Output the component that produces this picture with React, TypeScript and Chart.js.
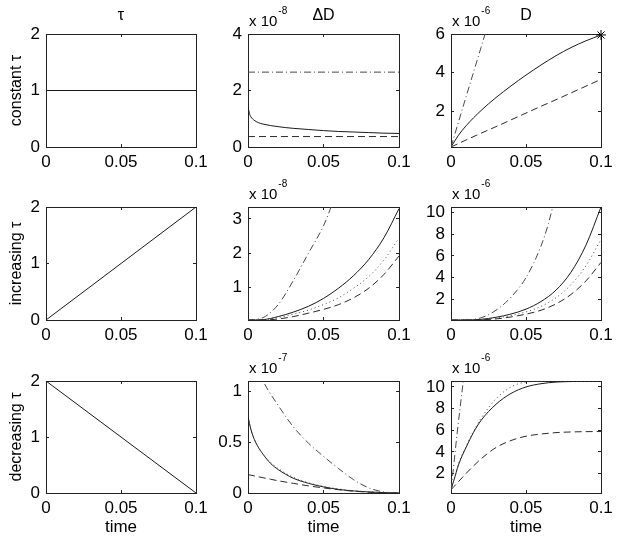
import React, { useEffect, useRef } from 'react';
import { Chart, registerables } from 'chart.js';

Chart.register(...registerables);

const FONT = '"Liberation Sans", Arial, Helvetica, sans-serif';

// ---------- text ----------
const colTitles = ['τ', 'ΔD', 'D'];
const rowLabels = ['constant τ', 'increasing τ', 'decreasing τ'];
const timeLabel = 'time';

// ---------- x axis (shared) ----------
const xTicks = [0, 0.05, 0.1];
const xTickLabels = ['0', '0.05', '0.1'];

// ---------- panel A: tau, constant ----------
const tA = [0, 0.1];
const tauConst = [1, 1];
// ---------- panel D: tau, increasing ----------
const tauInc = [0, 2];
// ---------- panel G: tau, decreasing ----------
const tauDec = [2, 0];
const tauTicks = [0, 1, 2];
const tauTickLabels = ['0', '1', '2'];

// ---------- panel B: dD, constant tau (x 1e-8) ----------
const tB = [0, 0.001, 0.002, 0.004, 0.007, 0.01, 0.02, 0.03, 0.04, 0.05, 0.06, 0.07, 0.08, 0.09, 0.1];
const dDConstSolid = [1.43, 1.18, 1.06, 0.95, 0.86, 0.81, 0.72, 0.66, 0.62, 0.58, 0.55, 0.53, 0.51, 0.49, 0.48];
const tBflat = [0, 0.1];
const dDConstDashed = [0.37, 0.37];
const dDConstDashDot = [2.65, 2.65];
const bTicks = [0, 2, 4];
const bTickLabels = ['0', '2', '4'];

// ---------- panel C: D, constant tau (x 1e-6) ----------
const tC = [0, 0.005, 0.01, 0.02, 0.03, 0.04, 0.05, 0.06, 0.07, 0.08, 0.09, 0.1];
const DConstSolid = [0.17, 0.78, 1.26, 2.05, 2.72, 3.32, 3.88, 4.4, 4.88, 5.3, 5.65, 5.95];
const tC2 = [0, 0.01, 0.02, 0.03, 0.04, 0.05, 0.06, 0.07, 0.08, 0.09, 0.1];
const DConstDashed = [0.17, 0.53, 0.88, 1.22, 1.57, 1.92, 2.27, 2.61, 2.96, 3.31, 3.66];
const tC3 = [0, 0.01, 0.02, 0.03];
const DConstDashDot = [0.17, 2.75, 5.3, 7.9];
const tStar = [0.1];
const DConstStar = [5.95];
const cTicks = [2, 4, 6];
const cTickLabels = ['2', '4', '6'];

// ---------- panel E: dD, increasing tau (x 1e-8) ----------
const tE = [0, 0.01, 0.02, 0.03, 0.04, 0.05, 0.06, 0.07, 0.08, 0.09, 0.1];
const dDIncSolid = [0.05, 0.06, 0.15, 0.28, 0.45, 0.68, 0.98, 1.35, 1.82, 2.45, 3.3];
const dDIncDotted = [0.05, 0.06, 0.12, 0.22, 0.34, 0.5, 0.7, 0.98, 1.32, 1.8, 2.44];
const dDIncDashed = [0.05, 0.05, 0.08, 0.15, 0.25, 0.36, 0.5, 0.7, 0.98, 1.38, 1.92];
const tE2 = [0, 0.01, 0.02, 0.03, 0.04, 0.05, 0.055, 0.06];
const dDIncDashDot = [0.05, 0.12, 0.5, 1.2, 2.0, 2.8, 3.35, 3.95];
const eTicks = [1, 2, 3];
const eTickLabels = ['1', '2', '3'];

// ---------- panel F: D, increasing tau (x 1e-6) ----------
const tF = [0, 0.01, 0.02, 0.03, 0.04, 0.05, 0.06, 0.07, 0.08, 0.09, 0.1];
const DIncSolid = [0.1, 0.1, 0.16, 0.35, 0.65, 1.1, 1.8, 2.85, 4.5, 7.0, 10.5];
const DIncDotted = [0.1, 0.1, 0.14, 0.28, 0.5, 0.85, 1.35, 2.15, 3.35, 5.1, 7.5];
const DIncDashed = [0.1, 0.1, 0.12, 0.2, 0.38, 0.64, 1.0, 1.58, 2.45, 3.7, 5.4];
const tF2 = [0, 0.01, 0.02, 0.03, 0.04, 0.05, 0.06, 0.065, 0.07];
const DIncDashDot = [0.1, 0.12, 0.3, 1.0, 2.2, 4.0, 6.9, 9.0, 11.8];
const fTicks = [2, 4, 6, 8, 10];
const fTickLabels = ['2', '4', '6', '8', '10'];

// ---------- panel H: dD, decreasing tau (x 1e-7) ----------
const tH = [0, 0.002, 0.005, 0.01, 0.015, 0.02, 0.03, 0.04, 0.05, 0.06, 0.07, 0.08, 0.09, 0.1];
const dDDecSolid = [0.75, 0.62, 0.5, 0.38, 0.29, 0.23, 0.145, 0.095, 0.06, 0.035, 0.02, 0.01, 0.004, 0.001];
const dDDecDotted = [0.75, 0.62, 0.5, 0.38, 0.3, 0.24, 0.155, 0.1, 0.065, 0.04, 0.022, 0.011, 0.005, 0.001];
const dDDecDashed = [0.18, 0.175, 0.165, 0.15, 0.135, 0.12, 0.095, 0.07, 0.05, 0.032, 0.018, 0.008, 0.003, 0.001];
const tH2 = [0, 0.005, 0.01, 0.02, 0.03, 0.04, 0.05, 0.06, 0.07, 0.08, 0.09, 0.1];
const dDDecDashDot = [1.45, 1.28, 1.1, 0.86, 0.65, 0.49, 0.36, 0.24, 0.13, 0.05, 0.01, 0];
const hTicks = [0, 0.5, 1];
const hTickLabels = ['0', '0.5', '1'];

// ---------- panel I: D, decreasing tau (x 1e-6) ----------
const tI = [0, 0.002, 0.005, 0.01, 0.015, 0.02, 0.03, 0.04, 0.05, 0.06, 0.07, 0.08, 0.09, 0.1];
const DDecSolid = [0.5, 1.4, 2.8, 4.4, 5.8, 6.9, 8.4, 9.4, 10.0, 10.3, 10.45, 10.5, 10.52, 10.52];
const DDecDotted = [0.5, 1.45, 2.9, 4.5, 5.9, 7.1, 8.9, 10.0, 10.45, 10.52, 10.52, 10.52, 10.52, 10.52];
const DDecDashed = [0.5, 0.8, 1.25, 2.0, 2.7, 3.35, 4.4, 5.05, 5.45, 5.65, 5.78, 5.84, 5.87, 5.88];
const tI2 = [0, 0.002, 0.004, 0.006, 0.008, 0.01];
const DDecDashDot = [0.5, 3.0, 5.6, 8.0, 10.3, 12.5];
const iTicks = [2, 4, 6, 8, 10];
const iTickLabels = ['2', '4', '6', '8', '10'];

// ---------- layout of the 3x3 grid (axes boxes, px) ----------
const colX0 = [46, 248, 451];
const colX1 = [196, 399, 601];
const rowY0 = [34, 207, 381];
const rowY1 = [147, 320, 493];
const padL = [46, 40, 40];
const padR = [12, 12, 14];
const padT = [34, 30, 30];
const padB = [30, 31, 51];

type Style = 'solid' | 'dashed' | 'dotted' | 'dashdot' | 'star';
type Series = { t: number[]; v: number[]; style: Style };
type PanelDef = {
  row: number;
  col: number;
  yMin: number;
  yMax: number;
  yTicks: number[];
  yTickLabels: string[];
  exponent?: string;
  series: Series[];
};

const panels: PanelDef[] = [
  { row: 0, col: 0, yMin: 0, yMax: 2, yTicks: tauTicks, yTickLabels: tauTickLabels,
    series: [{ t: tA, v: tauConst, style: 'solid' }] },
  { row: 0, col: 1, yMin: 0, yMax: 4, yTicks: bTicks, yTickLabels: bTickLabels, exponent: '-8',
    series: [
      { t: tBflat, v: dDConstDashDot, style: 'dashdot' },
      { t: tBflat, v: dDConstDashed, style: 'dashed' },
      { t: tB, v: dDConstSolid, style: 'solid' },
    ] },
  { row: 0, col: 2, yMin: 0.17, yMax: 6, yTicks: cTicks, yTickLabels: cTickLabels, exponent: '-6',
    series: [
      { t: tC3, v: DConstDashDot, style: 'dashdot' },
      { t: tC2, v: DConstDashed, style: 'dashed' },
      { t: tC, v: DConstSolid, style: 'solid' },
      { t: tStar, v: DConstStar, style: 'star' },
    ] },
  { row: 1, col: 0, yMin: 0, yMax: 2, yTicks: tauTicks, yTickLabels: tauTickLabels,
    series: [{ t: tA, v: tauInc, style: 'solid' }] },
  { row: 1, col: 1, yMin: 0.05, yMax: 3.35, yTicks: eTicks, yTickLabels: eTickLabels, exponent: '-8',
    series: [
      { t: tE2, v: dDIncDashDot, style: 'dashdot' },
      { t: tE, v: dDIncDashed, style: 'dashed' },
      { t: tE, v: dDIncDotted, style: 'dotted' },
      { t: tE, v: dDIncSolid, style: 'solid' },
    ] },
  { row: 1, col: 2, yMin: 0.1, yMax: 10.5, yTicks: fTicks, yTickLabels: fTickLabels, exponent: '-6',
    series: [
      { t: tF2, v: DIncDashDot, style: 'dashdot' },
      { t: tF, v: DIncDashed, style: 'dashed' },
      { t: tF, v: DIncDotted, style: 'dotted' },
      { t: tF, v: DIncSolid, style: 'solid' },
    ] },
  { row: 2, col: 0, yMin: 0, yMax: 2, yTicks: tauTicks, yTickLabels: tauTickLabels,
    series: [{ t: tA, v: tauDec, style: 'solid' }] },
  { row: 2, col: 1, yMin: 0, yMax: 1.1, yTicks: hTicks, yTickLabels: hTickLabels, exponent: '-7',
    series: [
      { t: tH2, v: dDDecDashDot, style: 'dashdot' },
      { t: tH, v: dDDecDashed, style: 'dashed' },
      { t: tH, v: dDDecDotted, style: 'dotted' },
      { t: tH, v: dDDecSolid, style: 'solid' },
    ] },
  { row: 2, col: 2, yMin: 0.2, yMax: 10.55, yTicks: iTicks, yTickLabels: iTickLabels, exponent: '-6',
    series: [
      { t: tI2, v: DDecDashDot, style: 'dashdot' },
      { t: tI, v: DDecDashed, style: 'dashed' },
      { t: tI, v: DDecDotted, style: 'dotted' },
      { t: tI, v: DDecSolid, style: 'solid' },
    ] },
];

const lineStyles: Record<string, { color: string; dash: number[] }> = {
  solid: { color: '#1a1a1a', dash: [] },
  dashed: { color: '#2a2a2a', dash: [7, 4] },
  dotted: { color: '#444444', dash: [1, 3] },
  dashdot: { color: '#4a4a4a', dash: [7, 3, 1, 3] },
};

const panelTextPlugin = {
  id: 'panelText',
  afterDraw(chart: any, _args: any, opts: any) {
    const { ctx, chartArea } = chart;
    ctx.save();
    ctx.fillStyle = '#000';
    ctx.textBaseline = 'alphabetic';
    if (opts.title) {
      ctx.font = `16px ${FONT}`;
      ctx.textAlign = 'center';
      ctx.fillText(opts.title, (chartArea.left + chartArea.right) / 2, chartArea.top - 14);
    }
    if (opts.exponent) {
      ctx.font = `15px ${FONT}`;
      ctx.textAlign = 'left';
      const base = 'x 10';
      const x0 = chartArea.left + 1;
      const y0 = chartArea.top - 8;
      ctx.fillText(base, x0, y0);
      const w = ctx.measureText(base).width;
      ctx.font = `10px ${FONT}`;
      ctx.fillText(opts.exponent, x0 + w + 1, y0 - 12);
    }
    ctx.restore();
  },
};

function Panel({ def }: { def: PanelDef }) {
  const ref = useRef<HTMLCanvasElement | null>(null);
  const { row, col } = def;
  const L = padL[col];
  const R = padR[col];
  const T = padT[row];
  const B = padB[row];
  const width = L + (colX1[col] - colX0[col]) + R;
  const height = T + (rowY1[row] - rowY0[row]) + B;
  const left = colX0[col] - L;
  const top = rowY0[row] - T;

  useEffect(() => {
    if (!ref.current) return;
    const tickFont = { family: FONT, size: 17 };
    const datasets: any[] = def.series.map((s) => {
      const data = s.t.map((x, i) => ({ x, y: s.v[i] }));
      if (s.style === 'star') {
        return {
          data,
          showLine: false,
          pointStyle: 'star',
          pointRadius: 5,
          pointBorderColor: '#000',
          pointBackgroundColor: '#000',
          pointBorderWidth: 1,
          clip: false,
        };
      }
      const st = lineStyles[s.style];
      return {
        data,
        borderColor: st.color,
        borderDash: st.dash,
        borderWidth: 1,
        pointRadius: 0,
        fill: false,
        cubicInterpolationMode: 'monotone',
      };
    });

    const zeroPad = (s: any) => {
      s.paddingLeft = 0;
      s.paddingRight = 0;
      s.paddingTop = 0;
      s.paddingBottom = 0;
    };
    const setX = (s: any) => { s.ticks = xTicks.map((v) => ({ value: v })); };
    const setY = (s: any) => { s.ticks = def.yTicks.map((v) => ({ value: v })); };
    const gridOpts = { drawOnChartArea: false, tickLength: -3, color: '#222' };
    const borderOpts = { color: '#222', width: 1 };

    const chart = new Chart(ref.current, {
      type: 'line',
      data: { datasets },
      plugins: [panelTextPlugin as any],
      options: {
        animation: false,
        responsive: false,
        events: [],
        layout: { padding: { left: 0, top: T, right: R, bottom: 0 }, autoPadding: false } as any,
        plugins: {
          legend: { display: false },
          tooltip: { enabled: false },
          panelText: { title: row === 0 ? colTitles[col] : '', exponent: def.exponent || '' },
        } as any,
        scales: {
          x: {
            type: 'linear',
            position: 'bottom',
            min: 0,
            max: 0.1,
            afterBuildTicks: setX,
            ticks: {
              callback: (_v: any, i: number) => xTickLabels[i],
              font: tickFont,
              color: '#000',
              padding: 8,
              maxRotation: 0,
              minRotation: 0,
              autoSkip: false,
            },
            grid: gridOpts,
            border: borderOpts,
            title: row === 2
              ? { display: true, text: timeLabel, font: { family: FONT, size: 17 }, color: '#000', padding: { top: 0, bottom: 6 } }
              : { display: false },
            afterFit: (s: any) => { s.height = B; zeroPad(s); },
          },
          x2: {
            type: 'linear',
            position: 'top',
            min: 0,
            max: 0.1,
            afterBuildTicks: setX,
            ticks: { display: false },
            grid: gridOpts,
            border: borderOpts,
            afterFit: (s: any) => { s.height = 0; zeroPad(s); },
          },
          y: {
            type: 'linear',
            position: 'left',
            min: def.yMin,
            max: def.yMax,
            afterBuildTicks: setY,
            ticks: {
              callback: (_v: any, i: number) => def.yTickLabels[i],
              font: tickFont,
              color: '#000',
              padding: 9,
              autoSkip: false,
            },
            grid: gridOpts,
            border: borderOpts,
            title: col === 0
              ? { display: true, text: rowLabels[row], font: { family: FONT, size: 16 }, color: '#000', padding: { top: 7, bottom: 0 } }
              : { display: false },
            afterFit: (s: any) => { s.width = L; zeroPad(s); },
          },
          y2: {
            type: 'linear',
            position: 'right',
            min: def.yMin,
            max: def.yMax,
            afterBuildTicks: setY,
            ticks: { display: false },
            grid: gridOpts,
            border: borderOpts,
            afterFit: (s: any) => { s.width = 0; zeroPad(s); },
          },
        } as any,
      },
    });
    return () => chart.destroy();
  }, [def]);

  return (
    <canvas
      ref={ref}
      width={width}
      height={height}
      style={{ position: 'absolute', left, top, width, height }}
    />
  );
}

export default function App() {
  return (
    <div
      style={{
        position: 'absolute',
        left: 0,
        top: 0,
        width: 617,
        height: 544,
        background: '#fff',
        overflow: 'hidden',
      }}
    >
      {panels.map((p, i) => (
        <Panel key={i} def={p} />
      ))}
    </div>
  );
}
